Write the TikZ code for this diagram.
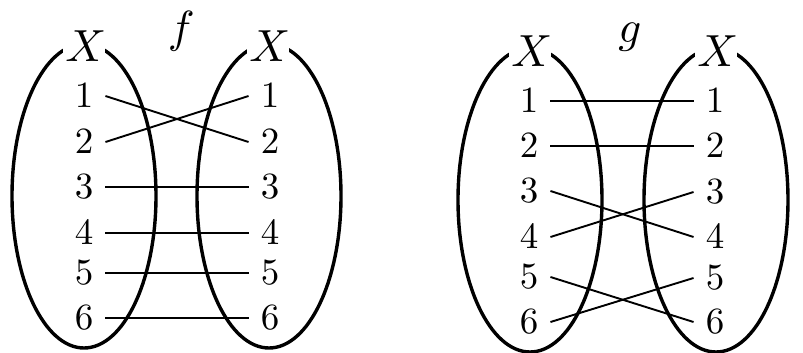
\documentclass[tikz,border=0pt]{standalone}
\font\elemfont=cmr10 at 37pt
\font\lblfont=cmmi10 at 45pt
\begin{document}
\begin{tikzpicture}[x=1pt,y=-1pt,
  setline/.style={line width=3.4pt},
  mapline/.style={line width=1.9pt},
  elem/.style={inner xsep=12pt, inner ysep=0pt, font=\elemfont},
  setlbl/.style={fill=white, inner sep=2.5pt, font=\lblfont},
  fnlbl/.style={inner sep=0pt, font=\lblfont}]
\useasboundingbox (0,0) rectangle (803,353);
% sets
\draw[setline] (84,196) ellipse [x radius=72pt, y radius=152pt];
\draw[setline] (269,196) ellipse [x radius=72pt, y radius=152pt];
\draw[setline] (530,200) ellipse [x radius=72pt, y radius=152pt];
\draw[setline] (716,200) ellipse [x radius=72pt, y radius=152pt];
\node[setlbl] (fX1) at (84,46) {X};
\node[setlbl] (fX2) at (268,46) {X};
\node[setlbl] (gX1) at (530,51) {X};
\node[setlbl] (gX2) at (716,51) {X};
\node[fnlbl] (fl) at (179,31) {f};
\node[fnlbl] (gl) at (629,37) {g};
% f elements
\node[elem] (fa1) at (84,96) {1};
\node[elem] (fa2) at (84,142) {2};
\node[elem] (fa3) at (84,187) {3};
\node[elem] (fa4) at (84,233) {4};
\node[elem] (fa5) at (84,273) {5};
\node[elem] (fa6) at (84,318) {6};
\node[elem] (fb1) at (270,96) {1};
\node[elem] (fb2) at (270,142) {2};
\node[elem] (fb3) at (270,187) {3};
\node[elem] (fb4) at (270,233) {4};
\node[elem] (fb5) at (270,273) {5};
\node[elem] (fb6) at (270,318) {6};
\draw[mapline] (fa1.east) -- (fb2.west);
\draw[mapline] (fa2.east) -- (fb1.west);
\draw[mapline] (fa3.east) -- (fb3.west);
\draw[mapline] (fa4.east) -- (fb4.west);
\draw[mapline] (fa5.east) -- (fb5.west);
\draw[mapline] (fa6.east) -- (fb6.west);
% g elements
\node[elem] (ga1) at (529,101) {1};
\node[elem] (ga2) at (529,146) {2};
\node[elem] (ga3) at (529,191) {3};
\node[elem] (ga4) at (529,237) {4};
\node[elem] (ga5) at (529,277) {5};
\node[elem] (ga6) at (529,322) {6};
\node[elem] (gb1) at (715,101) {1};
\node[elem] (gb2) at (715,146) {2};
\node[elem] (gb3) at (715,192) {3};
\node[elem] (gb4) at (715,237) {4};
\node[elem] (gb5) at (715,278) {5};
\node[elem] (gb6) at (715,322) {6};
\draw[mapline] (ga1.east) -- (gb1.west);
\draw[mapline] (ga2.east) -- (gb2.west);
\draw[mapline] (ga3.east) -- (gb4.west);
\draw[mapline] (ga4.east) -- (gb3.west);
\draw[mapline] (ga5.east) -- (gb6.west);
\draw[mapline] (ga6.east) -- (gb5.west);
\end{tikzpicture}
\end{document}
